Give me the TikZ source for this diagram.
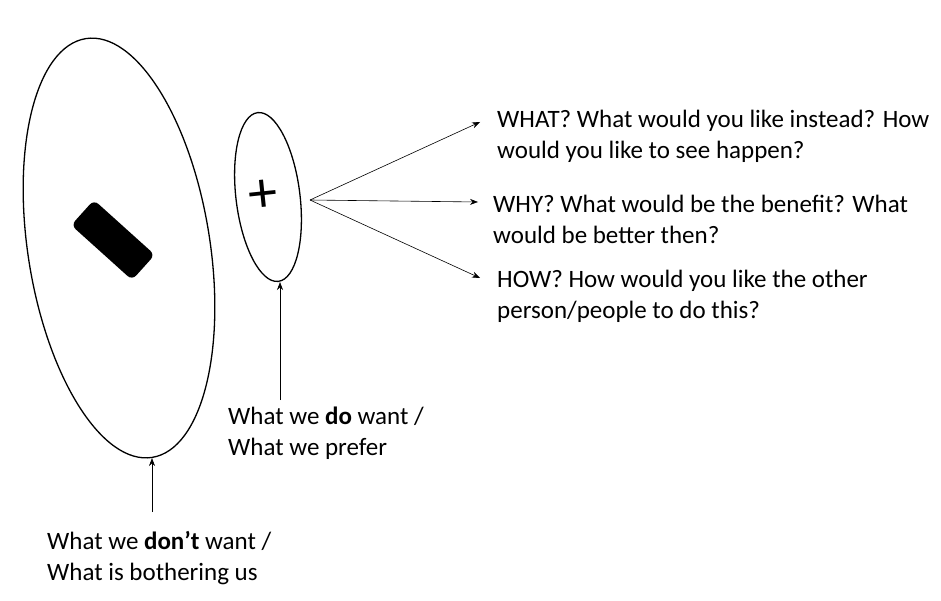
\documentclass[tikz,border=0pt]{standalone}
\usepackage{fontspec}
\setmainfont{Carlito}
\usetikzlibrary{arrows.meta,shapes.geometric}
\begin{document}
\begin{tikzpicture}[x=1pt,y=-1pt,
  lbl/.style={anchor=west,align=left,font=\fontsize{25}{31}\selectfont,inner sep=0pt},
  arr/.style={-{Stealth[length=8pt,width=6pt]},line width=0.6pt}]
\useasboundingbox (0,0) rectangle (941,601);
\node[draw,line width=1.3pt,ellipse,minimum width=182,minimum height=424,inner sep=0,rotate=9] (big) at (119,248) {};
\node[fill=black,rounded corners=6pt,minimum width=82,minimum height=34,rotate=-42] (minus) at (113,240) {};
\node[draw,line width=1.3pt,ellipse,minimum width=64,minimum height=170,inner sep=0,rotate=7] (small) at (268,197) {};
\node[font=\fontsize{58}{58}\selectfont,rotate=6] (plus) at (263,196) {+};
\coordinate (src) at (310,200);
\node[lbl] (what) at (497,136) {WHAT? What would you like instead? How\\would you like to see happen?};
\node[lbl] (why) at (493,219) {WHY? What would be the benefit? What\\would be better then?};
\node[lbl] (how) at (497,296) {HOW? How would you like the other\\person/people to do this?};
\draw[arr] (src) -- (480,122);
\draw[arr] (src) -- (478,202);
\draw[arr] (src) -- (480,278);
\node[lbl] (do) at (228,433) {What we \textbf{do} want /\\What we prefer};
\node[lbl] (dont) at (47,558) {What we \textbf{don’t} want /\\What is bothering us};
\coordinate (dotop) at (280,400);
\coordinate (donttop) at (152,512);
\draw[arr] (dotop) -- (dotop |- small.south);
\draw[arr] (donttop) -- (donttop |- big.south);
\end{tikzpicture}
\end{document}
